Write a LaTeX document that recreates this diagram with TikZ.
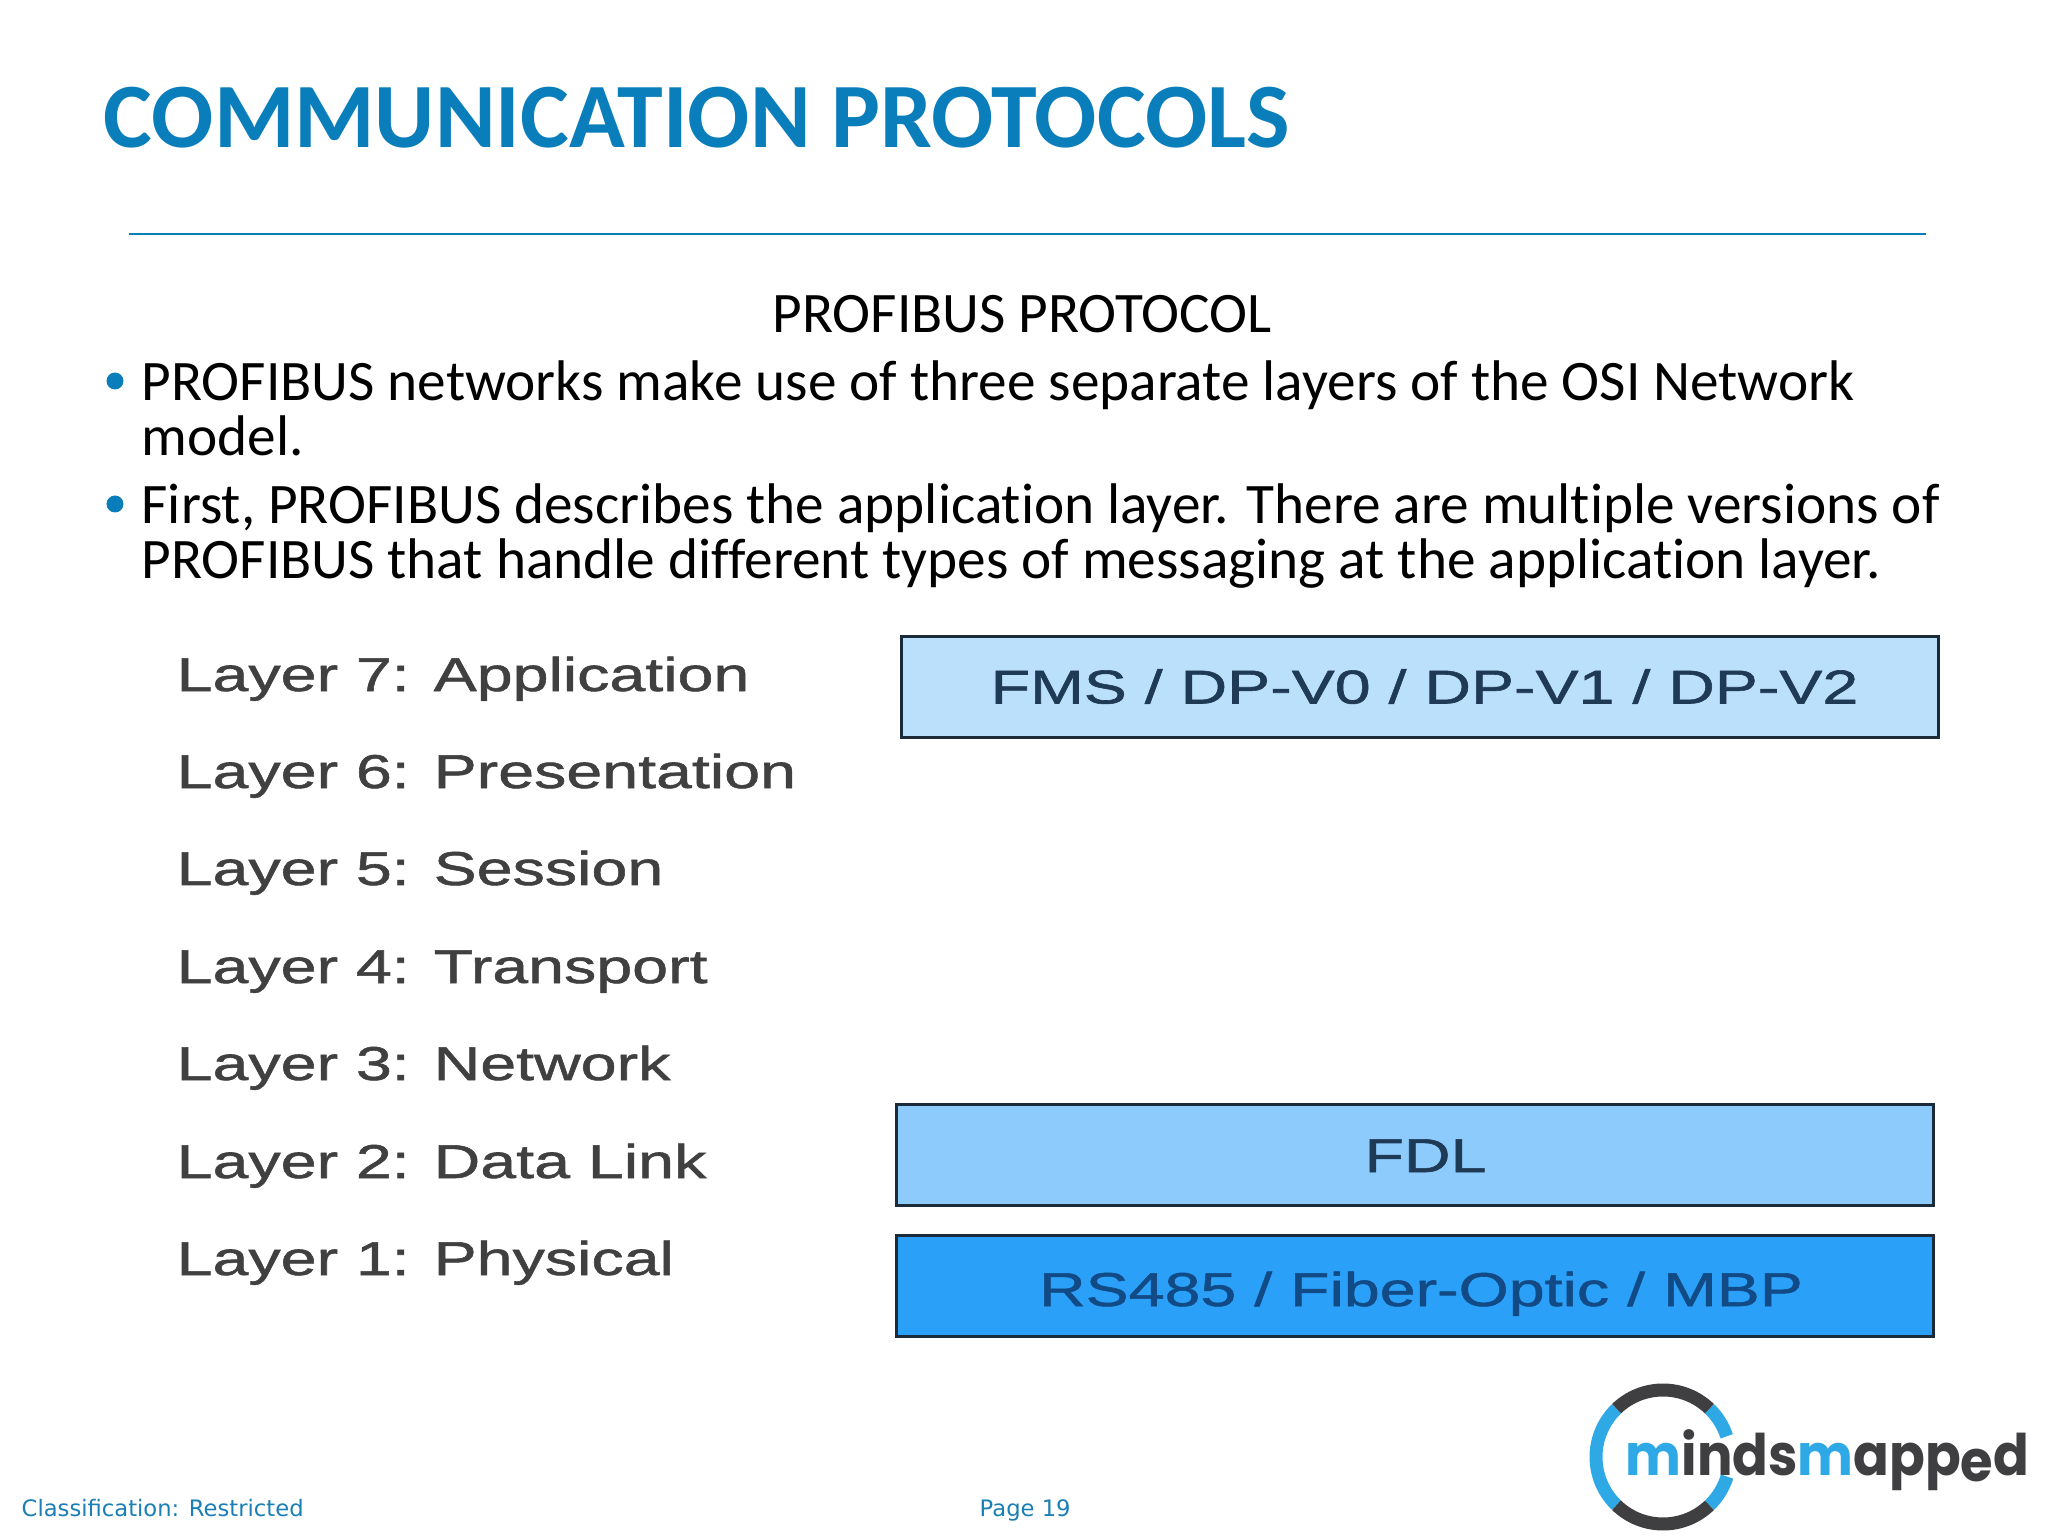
\documentclass[tikz,border=0pt]{standalone}
\usepackage{fontspec}
\setmainfont[Ligatures=NoCommon]{Carlito}
\newfontfamily\layerfont[FakeStretch=1.36,FakeBold=1.2]{Liberation Sans}
\newfontfamily\footfont{DejaVu Sans}
\newfontfamily\logofont[FakeStretch=0.92]{Poppins}
\definecolor{titleblue}{HTML}{0A7DBB}
\definecolor{footblue}{HTML}{1A7FB5}
\definecolor{layergray}{HTML}{404040}
\definecolor{boxline}{HTML}{1C2B3A}
\definecolor{boxtext}{HTML}{1F3A55}
\definecolor{boxtextdeep}{HTML}{124A85}
\definecolor{boxlight}{HTML}{BBE0FB}
\definecolor{boxmid}{HTML}{8CCBFC}
\definecolor{boxdeep}{HTML}{2AA0F8}
\definecolor{logoblue}{HTML}{2FA9E6}
\definecolor{logodark}{HTML}{3F3F41}
\begin{document}
\begin{tikzpicture}
\tikzstyle{title_style} = [anchor=base west,inner sep=0,text=titleblue,font=\fontsize{26.2}{26.2}\selectfont\bfseries]
\tikzstyle{body_style} = [anchor=base west,inner sep=0,text=black,font=\fontsize{16.3}{16.3}\selectfont]
\tikzstyle{bullet_style} = [circle,fill=titleblue,inner sep=0,minimum size=0.17cm]
\tikzstyle{layer_style} = [anchor=base west,inner sep=0,text=layergray,font=\fontsize{13.5}{13.5}\layerfont]
\tikzstyle{box_style} = [draw=boxline,line width=0.03cm,minimum width=10.37cm,minimum height=1.01cm,inner sep=0,text height=0.41cm,text depth=0.07cm,text=boxtext,font=\fontsize{13.5}{13.5}\layerfont]
\tikzstyle{foot_style} = [anchor=base west,inner sep=0,text=footblue,font=\fontsize{6.45}{6.45}\footfont]
\tikzstyle{ring_blue} = [logoblue,line width=0.13cm]
\tikzstyle{ring_dark} = [logodark,line width=0.13cm]
    \useasboundingbox (0,0) rectangle (20.48,-15.36);

    \node[title_style] (title) at (1.03,-1.48) {COMMUNICATION PROTOCOLS};
    \coordinate (ruleL) at (1.29,-2.34);
    \coordinate (ruleR) at (19.26,-2.34);
    \draw[titleblue,line width=0.02cm] (ruleL) -- (ruleR);

    \node[body_style,anchor=base] (sub) at (10.22,-3.32) {PROFIBUS PROTOCOL};
    \node[bullet_style] (b1) at (1.15,-3.81) {};
    \node[body_style] (t1) at (1.41,-4.01) {PROFIBUS networks make use of three separate layers of the OSI Network};
    \node[body_style] (t2) at (1.41,-4.56) {model.};
    \node[bullet_style] (b2) at (1.15,-5.04) {};
    \node[body_style] (t3) at (1.41,-5.24) {First, PROFIBUS describes the application layer. There are multiple versions of};
    \node[body_style] (t4) at (1.41,-5.79) {PROFIBUS that handle different types of messaging at the application layer.};

    \node[layer_style] (l7) at (1.76,-6.91) {Layer 7: Application};
    \node[layer_style] (l6) at (1.76,-7.88) {Layer 6: Presentation};
    \node[layer_style] (l5) at (1.76,-8.85) {Layer 5: Session};
    \node[layer_style] (l4) at (1.76,-9.83) {Layer 4: Transport};
    \node[layer_style] (l3) at (1.76,-10.80) {Layer 3: Network};
    \node[layer_style] (l2) at (1.76,-11.78) {Layer 2: Data Link};
    \node[layer_style] (l1) at (1.76,-12.75) {Layer 1: Physical};

    \node[box_style,fill=boxlight] (app) at (14.20,-6.865) {\hspace*{0.09cm}FMS / DP-V0 / DP-V1 / DP-V2};
    \node[box_style,fill=boxmid] (fdl) at (14.15,-11.55) {\hspace*{0.21cm}FDL};
    \node[box_style,fill=boxdeep,text=boxtextdeep,text height=0.47cm] (phy) at (14.15,-12.86) {\hspace*{0.12cm}RS485 / Fiber-Optic / MBP};

    \node[foot_style] (class) at (0.21,-15.16) {Classification: Restricted};
    \node[foot_style] (page) at (9.79,-15.16) {Page 19};

    \coordinate (logo) at (16.63,-14.57);
    \draw[ring_dark] ([shift={(46:0.67)}]logo) arc (46:134:0.67);
    \draw[ring_blue] ([shift={(134:0.67)}]logo) arc (134:226:0.67);
    \draw[ring_dark] ([shift={(226:0.67)}]logo) arc (226:314:0.67);
    \draw[ring_blue] ([shift={(314:0.67)}]logo) arc (314:343:0.67);
    \draw[ring_blue] ([shift={(46:0.67)}]logo) arc (46:18:0.67);
    \node[anchor=base west,inner sep=0,text=logodark,font=\fontsize{16.3}{16.3}\logofont\bfseries] (brand) at (16.25,-14.75) {\textcolor{logoblue}{m}inds\textcolor{logoblue}{m}app\raisebox{-1.8pt}{e}d};
\end{tikzpicture}
\end{document}
